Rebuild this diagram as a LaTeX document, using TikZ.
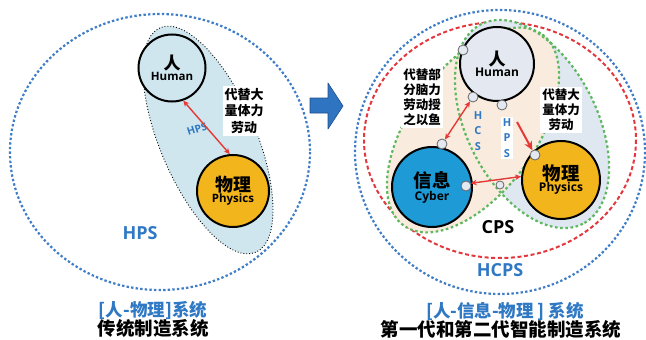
\documentclass[tikz,border=0pt]{standalone}
\usepackage{fontspec}
\setmainfont{Open Sans}
\newfontfamily\cjk{Noto Sans CJK SC}
\usetikzlibrary{arrows.meta}
\definecolor{dotblue}{HTML}{3F7DC6}
\definecolor{txtblue}{HTML}{2F78C4}
\definecolor{dashred}{HTML}{E2383D}
\definecolor{dotgreen}{HTML}{5DB860}
\definecolor{shadecyan}{HTML}{CFE6EF}
\definecolor{hcsfill}{HTML}{FAEBDF}
\definecolor{hpsfill}{HTML}{DFE7F1}
\definecolor{humanfill}{HTML}{E4E8F1}
\definecolor{cyberfill}{HTML}{1E9AD6}
\definecolor{physfill}{HTML}{F3B51C}
\definecolor{arrred}{HTML}{E53935}
\definecolor{blockblue}{HTML}{2F74C0}
\definecolor{blockedge}{HTML}{1F4E8C}
\begin{document}
\begin{tikzpicture}[x=1pt,y=-1pt,
  bluedot/.style={draw=dotblue, line width=2.2pt, dash pattern=on 2.4pt off 2.2pt},
  reddash/.style={draw=dashred, line width=2pt, dash pattern=on 4pt off 2.6pt},
  greendot/.style={draw=dotgreen, line width=2.2pt, dash pattern=on 2.6pt off 2.6pt},
  bigcirc/.style={circle, draw=black, line width=2pt, inner sep=0pt, align=center},
  tbox/.style={fill=white, inner sep=2pt, align=center, font=\cjk\bfseries\fontsize{12.5}{15}\selectfont},
  vlet/.style={align=center, text=txtblue, inner sep=1.5pt, font=\bfseries\fontsize{11}{15.5}\selectfont},
  smallc/.style={circle, draw=gray!80!black, fill=humanfill, line width=0.8pt, minimum size=10pt, inner sep=0pt},
  rarr/.style={draw=arrred, line width=1.4pt, arrows={Stealth[length=6pt,width=5.5pt]-Stealth[length=6pt,width=5.5pt]}},
  bigtxt/.style={font=\bfseries\fontsize{18}{18}\selectfont},
  cjkline/.style={font=\cjk\bfseries\fontsize{18.5}{18.5}\selectfont}
]
\useasboundingbox (0,0) rectangle (646,340);

% ---------- left panel ----------
\draw[bluedot] (160,152) ellipse [x radius=150, y radius=138];
\draw[fill=shadecyan, draw=black, dotted, line width=0.9pt, rotate around={-67:(208,140)}] (208,140) ellipse [x radius=122, y radius=48];
\node[tbox, font=\cjk\bfseries\fontsize{13}{16.5}\selectfont, inner sep=2pt] (ltb) at (244,111) {代替大\\量体力\\劳动};
\node[text=txtblue, rotate=18, inner sep=0pt, font=\bfseries\fontsize{10.5}{10.5}\selectfont] (lhpsa) at (197,129) {HPS};
\node[bigcirc, fill=shadecyan, minimum size=67pt] (lH) at (172,68) {{\cjk\bfseries\fontsize{17}{17}\selectfont 人}\\[-1pt]{\bfseries\fontsize{11.5}{12}\selectfont Human}};
\node[bigcirc, fill=physfill, minimum size=72pt] (lP) at (233,191) {{\cjk\bfseries\fontsize{18}{18}\selectfont 物理}\\[-1pt]{\bfseries\fontsize{11.5}{12}\selectfont Physics}};
\draw[rarr] (lH.289) -- (lP.95);
\node[bigtxt, text=txtblue] (lhps) at (140,233) {HPS};
\node[cjkline, text=txtblue, font=\cjk\bfseries\fontsize{17.5}{17.5}\selectfont] (lt1) at (153,310) {[人-物理]系统};
\node[cjkline] (lt2) at (153,328) {传统制造系统};

% ---------- block arrow ----------
\draw[fill=blockblue, draw=blockedge, line width=0.6pt, line join=round]
  (310,98) -- (328,98) -- (328,83) -- (343,106) -- (328,129) -- (328,113) -- (310,113) -- cycle;

% ---------- right panel ----------
\draw[bluedot] (500,152) ellipse [x radius=145, y radius=142];
\draw[reddash] (500,140) ellipse [x radius=136, y radius=118];
\fill[hpsfill, rotate around={-63:(532,124)}] (532,124) ellipse [x radius=112, y radius=65];
\fill[hcsfill, rotate around={54:(473,130)}] (473,130) ellipse [x radius=118, y radius=63];
\draw[greendot, rotate around={-63:(532,124)}] (532,124) ellipse [x radius=112, y radius=65];
\draw[greendot, rotate around={54:(473,130)}] (473,130) ellipse [x radius=118, y radius=63];

\node[tbox] (tL) at (422,97) {代替部\\分脑力\\劳动授\\之以鱼};
\node[tbox] (tR) at (561,110) {代替大\\量体力\\劳动};
\node[vlet] (hcs) at (478,131) {H\\C\\S};
\node[vlet, fill=white] (hps) at (507,138) {H\\P\\S};

\node[bigcirc, fill=humanfill, minimum size=74pt] (rH) at (497,64) {{\cjk\bfseries\fontsize{17}{17}\selectfont 人}\\[-1pt]{\bfseries\fontsize{12}{12}\selectfont Human}};
\node[bigcirc, fill=cyberfill, minimum size=80pt] (rC) at (432,187) {{\cjk\bfseries\fontsize{18.5}{18.5}\selectfont 信息}\\[1pt]{\bfseries\fontsize{12}{12}\selectfont Cyber}};
\node[bigcirc, fill=physfill, minimum size=78pt] (rP) at (561,180) {{\cjk\bfseries\fontsize{18.5}{18.5}\selectfont 物理}\\[-1pt]{\bfseries\fontsize{12}{12}\selectfont Physics}};

\node[smallc] (s1) at (463,50) {};
\node[smallc] (s2) at (473,97) {};
\node[smallc] (s3) at (502,105) {};
\node[smallc] (s4) at (442,144) {};
\node[smallc] (s5) at (466,186) {};
\node[smallc, minimum size=8pt] (s6) at (500,185) {};
\node[smallc] (s7) at (535,155) {};

\coordinate (hpsA) at (517,122);
\draw[rarr] (s2) -- (s4);
\draw[rarr] (s5.30) -- (rP.175);
\draw[draw=arrred, line width=2pt, -{Stealth[length=9pt,width=8pt]}] (hpsA) -- (s7);

\node[bigtxt] (cps) at (498,227) {CPS};
\node[bigtxt, text=txtblue] (hcps) at (500,270) {HCPS};
\node[cjkline, text=txtblue, font=\cjk\bfseries\fontsize{17.5}{17.5}\selectfont] (rt1) at (505,311) {[人-信息-物理 ] 系统};
\node[cjkline] (rt2) at (501,329) {第一代和第二代智能制造系统};
\end{tikzpicture}
\end{document}
